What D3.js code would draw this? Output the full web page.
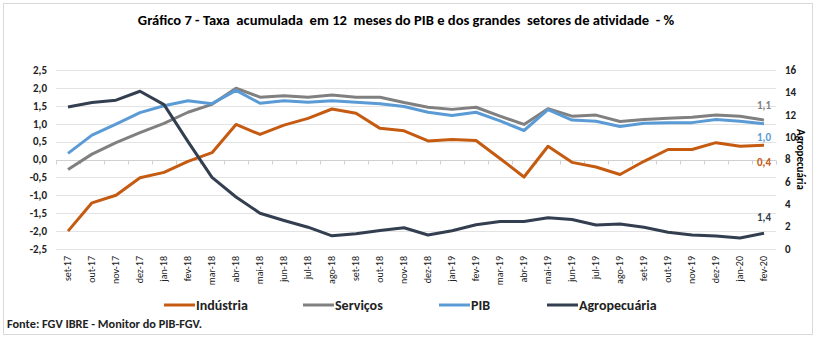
<!DOCTYPE html>
<html>
<head>
<meta charset="utf-8">
<script src="https://cdn.jsdelivr.net/npm/d3@7"></script>
<style>
  body { margin: 0; background: #fff; }
  svg { display: block; font-family: "Carlito", "Liberation Sans Narrow", "Lato", sans-serif; }
</style>
</head>
<body>
<div id="chart"></div>
<script>
// months on the x axis
const months = ["set-17", "out-17", "nov-17", "dez-17", "jan-18", "fev-18", "mar-18", "abr-18", "mai-18",
    "jun-18", "jul-18", "ago-18", "set-18", "out-18", "nov-18", "dez-18", "jan-19", "fev-19", "mar-19",
    "abr-19", "mai-19", "jun-19", "jul-19", "ago-19", "set-19", "out-19", "nov-19", "dez-19", "jan-20", "fev-20"];

// 12-month accumulated rate, % (left axis)
const industria = [-2.0, -1.21, -1.0, -0.51, -0.36, -0.05, 0.19, 0.98, 0.70, 0.96, 1.15, 1.41, 1.29, 0.87, 0.80,
    0.52, 0.56, 0.53, 0.03, -0.49, 0.37, -0.08, -0.21, -0.42, -0.05, 0.28, 0.28, 0.47, 0.37, 0.4];
const servicos = [-0.28, 0.15, 0.47, 0.75, 1.01, 1.32, 1.54, 1.99, 1.74, 1.78, 1.74, 1.80, 1.74, 1.74, 1.59,
    1.46, 1.40, 1.46, 1.21, 0.98, 1.42, 1.21, 1.24, 1.06, 1.12, 1.15, 1.18, 1.24, 1.21, 1.1];
const pib = [0.17, 0.68, 0.99, 1.31, 1.50, 1.64, 1.56, 1.93, 1.57, 1.64, 1.60, 1.64, 1.60, 1.56, 1.48,
    1.32, 1.23, 1.32, 1.08, 0.81, 1.39, 1.10, 1.07, 0.92, 1.01, 1.03, 1.03, 1.12, 1.07, 1.0];
// agropecuária, right axis
const agro = [12.7, 13.1, 13.3, 14.1, 12.9, 9.6, 6.4, 4.65, 3.2, 2.55, 1.95, 1.18, 1.37, 1.66, 1.9,
    1.25, 1.63, 2.17, 2.46, 2.46, 2.8, 2.63, 2.15, 2.24, 1.94, 1.5, 1.26, 1.17, 0.99, 1.4];

const leftTicks = [-2.5, -2, -1.5, -1, -0.5, 0, 0.5, 1, 1.5, 2, 2.5];
const rightTicks = [0, 2, 4, 6, 8, 10, 12, 14, 16];

const series = [
    { name: "Indústria", values: industria, color: "#C55A11", axis: "left", label: "0,4" },
    { name: "Serviços", values: servicos, color: "#808080", axis: "left", label: "1,1" },
    { name: "PIB", values: pib, color: "#5B9BD5", axis: "left", label: "1,0" },
    { name: "Agropecuária", values: agro, color: "#333F50", axis: "right", label: "1,4" }
];

const width = 816, height = 339;
const plot = { left: 56, right: 776, top: 70, bottom: 249 };

const br = d3.formatLocale({ decimal: ",", thousands: ".", grouping: [3], currency: ["R$", ""], minus: "-" });
const fmt1 = br.format(".1f");

const svg = d3.select("#chart").append("svg")
    .attr("width", width)
    .attr("height", height);

svg.append("rect")
    .attr("x", 3.5).attr("y", 3.5)
    .attr("width", 809).attr("height", 331)
    .attr("fill", "#fff")
    .attr("stroke", "#D9D9D9");

svg.append("text")
    .attr("x", 406).attr("y", 25)
    .attr("text-anchor", "middle")
    .attr("font-size", 14.6).attr("font-weight", "bold")
    .style("white-space", "pre")
    .text("Gráfico 7 - Taxa  acumulada  em 12  meses do PIB e dos grandes  setores de atividade  - %");

const x = d3.scaleBand().domain(months).range([plot.left, plot.right]);
const cx = d => x(d) + x.bandwidth() / 2;
const y = d3.scaleLinear().domain([-2.5, 2.5]).range([plot.bottom, plot.top]);
const y2 = d3.scaleLinear().domain([0, 16]).range([plot.bottom, plot.top]);

// gridlines
svg.append("g")
    .selectAll("line")
    .data(leftTicks)
    .join("line")
    .attr("x1", plot.left).attr("x2", plot.right)
    .attr("y1", d => Math.round(y(d)) + 0.5).attr("y2", d => Math.round(y(d)) + 0.5)
    .attr("stroke", "#E3E3E3");

// left axis labels
svg.append("g")
    .selectAll("text")
    .data(leftTicks)
    .join("text")
    .attr("x", 47).attr("y", d => y(d))
    .attr("dy", "0.35em")
    .attr("text-anchor", "end")
    .attr("font-size", 11).attr("font-weight", "bold")
    .attr("fill", "#222")
    .text(d => fmt1(d));

// right axis labels
svg.append("g")
    .selectAll("text")
    .data(rightTicks)
    .join("text")
    .attr("x", 785).attr("y", d => y2(d))
    .attr("dy", "0.35em")
    .attr("font-size", 11).attr("font-weight", "bold")
    .attr("fill", "#222")
    .text(d => d);

svg.append("text")
    .attr("transform", `translate(797,${(plot.top + plot.bottom) / 2}) rotate(90)`)
    .attr("text-anchor", "middle")
    .attr("font-size", 11).attr("font-weight", "bold")
    .text("Agropecuária");

// zero line with ticks at category boundaries
const y0 = Math.round(y(0)) + 0.5;
svg.append("line")
    .attr("x1", plot.left).attr("x2", plot.right)
    .attr("y1", y0).attr("y2", y0)
    .attr("stroke", "#D0D0D0");
svg.append("g")
    .selectAll("line")
    .data(d3.range(months.length + 1))
    .join("line")
    .attr("x1", i => Math.round(plot.left + i * x.step()) + 0.5)
    .attr("x2", i => Math.round(plot.left + i * x.step()) + 0.5)
    .attr("y1", y0).attr("y2", y0 + 4)
    .attr("stroke", "#D0D0D0");

// month labels at the bottom
svg.append("g")
    .selectAll("text")
    .data(months)
    .join("text")
    .attr("transform", d => `translate(${cx(d) + 3},256) rotate(-90)`)
    .attr("text-anchor", "end")
    .attr("font-size", 10)
    .attr("fill", "#222")
    .text(d => d);

// lines
const lineLeft = d3.line().x((d, i) => cx(months[i])).y(d => y(d));
const lineRight = d3.line().x((d, i) => cx(months[i])).y(d => y2(d));

svg.append("g")
    .selectAll("path")
    .data(series)
    .join("path")
    .attr("d", s => (s.axis === "left" ? lineLeft : lineRight)(s.values))
    .attr("fill", "none")
    .attr("stroke", s => s.color)
    .attr("stroke-width", 3)
    .attr("stroke-linejoin", "round");

// end-of-line value labels
const endPos = { "Indústria": 162, "Serviços": 105, "PIB": 137, "Agropecuária": 217 };
svg.append("g")
    .selectAll("text")
    .data(series)
    .join("text")
    .attr("x", 757).attr("y", s => endPos[s.name])
    .attr("dy", "0.35em")
    .attr("font-size", 11).attr("font-weight", "bold")
    .attr("fill", s => s.color)
    .text(s => s.label);

// legend
const legendX = [164, 303, 439, 547];
const legend = svg.append("g")
    .selectAll("g")
    .data(series)
    .join("g")
    .attr("transform", (s, i) => `translate(${legendX[i]},305)`);
legend.append("line")
    .attr("x1", 0).attr("x2", 31)
    .attr("stroke", s => s.color)
    .attr("stroke-width", 3);
legend.append("text")
    .attr("x", 32).attr("dy", "0.35em")
    .attr("font-size", 14).attr("font-weight", "bold")
    .attr("fill", "#222")
    .text(s => s.name);

svg.append("text")
    .attr("x", 7).attr("y", 328)
    .attr("font-size", 12.3).attr("font-weight", "bold")
    .attr("fill", "#222")
    .text("Fonte: FGV IBRE - Monitor do PIB-FGV.");
</script>
</body>
</html>
